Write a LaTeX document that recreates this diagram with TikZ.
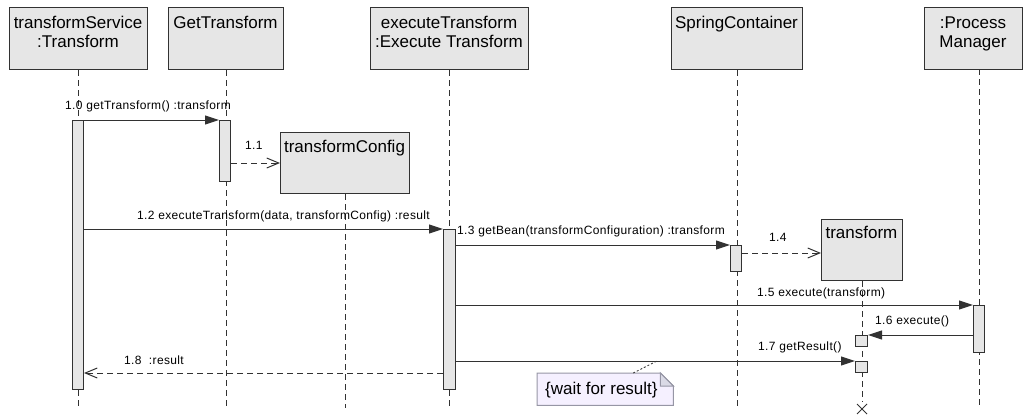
\documentclass[tikz,border=0pt]{standalone}
\usepackage{fontspec}
\setmainfont{Liberation Sans}
\newfontfamily\lblfont[LetterSpace=3]{Liberation Sans}
\usetikzlibrary{arrows.meta}
\definecolor{boxfill}{RGB}{230,230,230}
\definecolor{linec}{RGB}{50,50,50}
\definecolor{notefill}{RGB}{245,240,255}
\definecolor{noteline}{RGB}{150,150,165}
\definecolor{foldfill}{RGB}{218,218,230}
\begin{document}
\begin{tikzpicture}[x=1pt,y=-1pt,
 hdr/.style={draw=linec, fill=boxfill, line width=1pt, inner sep=0pt, anchor=north west},
 htxt/.style={anchor=base, inner sep=0pt, font=\fontsize{17}{19}\selectfont},
 act/.style={draw=linec, fill=boxfill, line width=1pt, inner sep=0pt, anchor=north west},
 life/.style={draw=linec, line width=1pt, dash pattern=on 6pt off 4pt},
 msg/.style={draw=linec, line width=1pt, -{Triangle[length=14pt,width=9pt]}},
 ret/.style={draw=linec, line width=1pt, dash pattern=on 6pt off 4pt, -{Straight Barb[length=12pt,width=10pt]}},
 lbl/.style={anchor=base west, inner sep=0pt, font=\lblfont\fontsize{12}{14}\selectfont},
]
\useasboundingbox (0,0) rectangle (1029,415);

% header boxes
\node[hdr, minimum width=138, minimum height=62] (ts) at (9,7) {};
\node[hdr, minimum width=115, minimum height=62] (gt) at (168,7) {};
\node[hdr, minimum width=158, minimum height=62] (et) at (370,7) {};
\node[hdr, minimum width=131, minimum height=62] (sc) at (671,7) {};
\node[hdr, minimum width=98, minimum height=62] (pm) at (924,7) {};

\node[htxt] (ts1) at (78,28) {transformService};
\node[htxt] (ts2) at (78,47) {:Transform};
\node[htxt] (gt1) at (225.5,28) {GetTransform};
\node[htxt] (et1) at (449,28) {executeTransform};
\node[htxt] (et2) at (449,47) {:Execute Transform};
\node[htxt] (sc1) at (736.5,28) {SpringContainer};
\node[htxt] (pm1) at (973,28) {:Process};
\node[htxt] (pm2) at (973,47) {Manager};

% created objects
\node[hdr, minimum width=129, minimum height=61] (tc) at (280,132) {};
\node[htxt] (tc1) at (344.5,152) {transformConfig};
\node[hdr, minimum width=81, minimum height=61] (tr) at (821,219) {};
\node[htxt] (tr1) at (861.5,238) {transform};

% lifelines
\draw[life] (ts.south) -- (ts.south |- 0,408);
\draw[life] (gt.south) -- (gt.south |- 0,408);
\draw[life] (et.south) -- (et.south |- 0,408);
\draw[life] (sc.south) -- (sc.south |- 0,408);
\draw[life] (979,69) -- (979,408);
\draw[life] (tc.south) -- (tc.south |- 0,408);
\draw[life] (tr.south) -- (tr.south |- 0,402);
\coordinate (xd) at (tr.south |- 0,409);
\draw[linec, line width=0.8pt] ([shift={(-5,-5)}]xd) -- ([shift={(5,5)}]xd)
      ([shift={(-5,5)}]xd) -- ([shift={(5,-5)}]xd);

% activations
\node[act, minimum width=11, minimum height=269] (a1) at (72,120) {};
\node[act, minimum width=11, minimum height=61] (a2) at (219,120) {};
\node[act, minimum width=12, minimum height=160] (a3) at (443,229) {};
\node[act, minimum width=11, minimum height=26] (a4) at (730,245) {};
\node[act, minimum width=11, minimum height=47] (a6) at (973,305) {};
\node[act, minimum width=12, minimum height=11] (b1) at (855,335) {};
\node[act, minimum width=12, minimum height=11] (b2) at (855,361) {};

% messages
\draw[msg] (a1.north east) -- (a2.north west);
\node[lbl] (l10) at (65,109) {1.0 getTransform() :transform};
\draw[ret] (a2.east |- tc.west) -- (tc.west);
\node[lbl] (l11) at (245,149) {1.1};
\draw[msg] (a1.east |- a3.north) -- (a3.north west);
\node[lbl] (l12) at (137,219) {1.2 executeTransform(data, transformConfig) :result};
\draw[msg] (a3.east |- a4.north) -- (a4.north west);
\node[lbl] (l13) at (457,234) {1.3 getBean(transformConfiguration) :transform};
\draw[ret] (a4.east |- 0,253) -- (tr.west |- 0,253);
\node[lbl] (l14) at (769,241) {1.4};
\draw[msg] (a3.east |- a6.north) -- (a6.north west);
\node[lbl] (l15) at (757,296) {1.5 execute(transform)};
\draw[msg] (a6.west |- b1.north) -- (b1.north east);
\node[lbl] (l16) at (875,324) {1.6 execute()};
\draw[msg] (a3.east |- b2.north) -- (b2.north west);
\node[lbl] (l17) at (758,350) {1.7 getResult()};
\draw[ret] (a3.west |- b2.south) -- (a1.east |- b2.south);
\node[lbl] (l18) at (124,364) {1.8\ \ :result};

% note
\node[inner sep=0pt, minimum width=136, minimum height=32, anchor=north west] (note) at (537,373) {};
\draw[fill=notefill, draw=noteline, line width=1pt] (note.north west) -- ([xshift=-13pt]note.north east)
  -- ([yshift=-13pt]note.north east) -- (note.south east) -- (note.south west) -- cycle;
\draw[fill=foldfill, draw=noteline, line width=1pt] ([xshift=-13pt]note.north east)
  -- ([xshift=-13pt,yshift=-13pt]note.north east) -- ([yshift=-13pt]note.north east) -- cycle;
\node[anchor=base west, inner sep=0pt, font=\fontsize{17}{19}\selectfont] (notet) at (545,394) {\{wait for result\}};
\coordinate (w) at (657,361);
\draw[linec, line width=0.8pt, dash pattern=on 2pt off 2pt] ([xshift=28pt]note.north) -- (w);
\end{tikzpicture}
\end{document}
